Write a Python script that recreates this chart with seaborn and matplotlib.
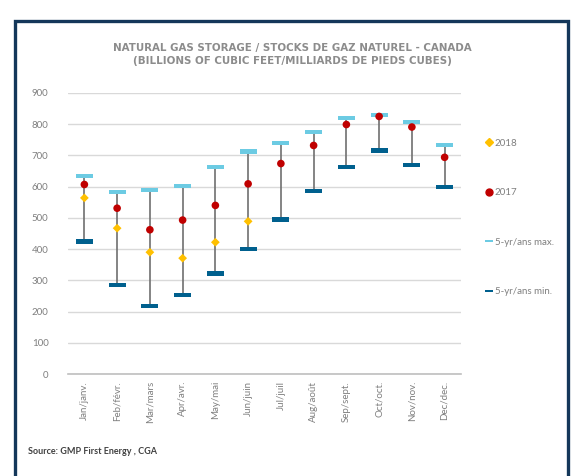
import matplotlib
matplotlib.use("Agg")
import matplotlib.pyplot as plt
import seaborn as sns
import pandas as pd
from matplotlib.lines import Line2D
from matplotlib.patches import Rectangle

months = ["Jan/janv.", "Feb/févr.", "Mar/mars", "Apr/avr.", "May/mai", "Jun/juin",
          "Jul/juil", "Aug/août", "Sep/sept.", "Oct/oct.", "Nov/nov.", "Dec/dec."]
max5 = [634, 582, 590, 602, 662, 713, 740, 775, 820, 829, 807, 733]
min5 = [424, 286, 217, 254, 322, 400, 495, 586, 662, 716, 669, 599]
y2017 = [607, 531, 462, 493, 540, 609, 674, 732, 799, 825, 791, 694]
y2018 = [564, 467, 390, 371, 422, 489]
yticks = [0, 100, 200, 300, 400, 500, 600, 700, 800, 900]

C_MAX = "#6CCBE3"
C_MIN = "#00608E"
C_2017 = "#C00000"
C_2018 = "#FFC000"
GREY = "#7F7F7F"

sns.set_theme(style="white")
plt.rcParams["font.family"] = ["Lato", "DejaVu Sans"]

df = pd.DataFrame({"month": months, "max": max5, "min": min5, "y2017": y2017})
df18 = pd.DataFrame({"month": months[:len(y2018)], "y2018": y2018})

fig = plt.figure(figsize=(5.76, 4.76), dpi=100)
ax = fig.add_axes([68/576, 1-374/476, (461-68)/576, (374-93)/476])

ax.vlines(df["month"], df["min"], df["max"], color="#707070", lw=1.2, zorder=2)

dash = [(-4, -1), (4, -1), (4, 1), (-4, 1), (-4, -1)]
sns.scatterplot(data=df, x="month", y="max", marker=dash, s=150, color=C_MAX,
                edgecolor="none", ax=ax, zorder=3)
sns.scatterplot(data=df, x="month", y="min", marker=dash, s=150, color=C_MIN,
                edgecolor="none", ax=ax, zorder=3)
sns.scatterplot(data=df, x="month", y="y2017", marker="o", s=30, color=C_2017,
                edgecolor="none", ax=ax, zorder=4)
sns.scatterplot(data=df18, x="month", y="y2018", marker="D", s=20, color=C_2018,
                edgecolor="none", ax=ax, zorder=5)

ax.set_xlim(-0.5, len(months)-0.5)
ax.set_ylim(0, 900)
ax.set_yticks(yticks)
ax.set_yticklabels([str(t) for t in yticks])
ax.set_xlabel("")
ax.set_ylabel("")
ax.grid(axis="y", color="#D9D9D9", lw=1)
ax.set_axisbelow(True)
for s in ["top", "right", "left"]:
    ax.spines[s].set_visible(False)
ax.spines["bottom"].set_color("#BFBFBF")
ax.spines["bottom"].set_linewidth(1.2)
ax.tick_params(axis="y", length=0, pad=14, labelsize=7, labelcolor=GREY)
ax.tick_params(axis="x", length=0, pad=5, labelsize=7, labelcolor=GREY, rotation=90)

handles = [
    Line2D([], [], ls="none", marker="D", color=C_2018, markersize=4),
    Line2D([], [], ls="none", marker="o", color=C_2017, markersize=5),
    Line2D([], [], ls="none", marker=dash, color=C_MAX, markersize=6, markeredgewidth=0),
    Line2D([], [], ls="none", marker=dash, color=C_MIN, markersize=6, markeredgewidth=0),
]
labels = ["2018", "2017", "5-yr/ans max.", "5-yr/ans min."]
fig.legend(handles, labels, loc="upper left", bbox_to_anchor=(481/576, 1-134/476),
           frameon=False, fontsize=7, labelcolor=GREY, labelspacing=4.15,
           handlelength=0.6, handletextpad=0.3, borderpad=0)

title_kw = dict(ha="center", va="center", fontsize=7.4, fontweight="bold",
                color="#8C8C8C", family=["DejaVu Sans"])
fig.text(292/576, 1-48/476, "NATURAL GAS STORAGE / STOCKS DE GAZ NATUREL - CANADA", **title_kw)
fig.text(292/576, 1-61/476, "(BILLIONS OF CUBIC FEET/MILLIARDS DE PIEDS CUBES)", **title_kw)
fig.text(28/576, 1-452/476, "Source: GMP First Energy , CGA", ha="left", va="center",
         fontsize=6.5, fontweight="bold", color="#404040")

fig.patches.append(Rectangle((15/576, -0.05), (568-15)/576, (1-21/476)+0.05,
                             transform=fig.transFigure, fill=False, edgecolor="#14375A",
                             lw=2.4, clip_on=False))

fig.savefig("out.png", dpi=100)
